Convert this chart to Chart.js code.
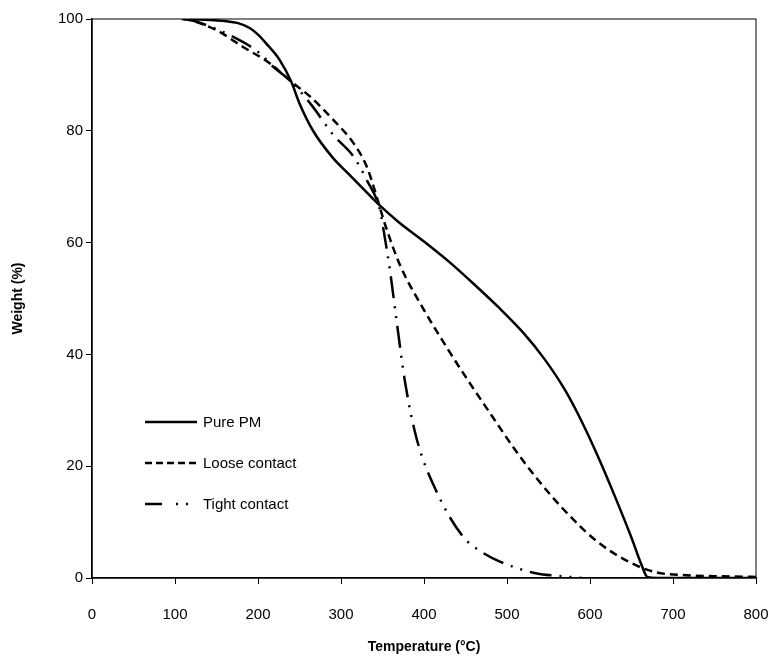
<!DOCTYPE html>
<html>
<head>
<meta charset="utf-8">
<script src="https://cdn.jsdelivr.net/npm/chart.js@4.4.0/dist/chart.umd.min.js"></script>
<style>
  body { margin: 0; background: #fff; }
  #wrap { width: 770px; height: 657px; }
</style>
</head>
<body>
<div id="wrap"><canvas id="tga"></canvas></div>
<script>
const seriesNames = ["Pure PM", "Loose contact", "Tight contact"];

// (temperature in °C, weight in %)
const pureTemp = [108, 130, 162, 175, 190, 200, 210, 226, 240, 250, 266, 290, 307, 323, 347, 370, 400, 430, 460, 490, 520, 545, 570, 590, 610, 630, 650, 663, 669, 680, 800];
const pureWeight = [100, 99.9, 99.6, 99.3, 98.4, 97.2, 95.6, 92.7, 88.8, 84.9, 80.1, 75.2, 72.6, 70.2, 66.6, 63.6, 60.2, 56.6, 52.6, 48.4, 43.8, 39.2, 33.6, 28, 21.6, 14.6, 7.2, 2, 0.2, 0, 0];

const looseTemp = [110, 118, 150, 182, 214, 240, 263, 291, 315, 331, 343, 347, 355, 371, 399, 431, 455, 480, 508, 536, 568, 608, 648, 680, 716, 760, 800];
const looseWeight = [100, 99.8, 98, 95, 92.1, 88.8, 86.1, 81.9, 77.8, 73.6, 68.2, 66.2, 62.4, 56, 48.2, 40.4, 34.9, 29.4, 23.3, 17.8, 12.3, 6.6, 2.8, 1, 0.5, 0.3, 0.2];

const tightTemp = [112, 126, 166, 202, 218, 240, 265, 291, 315, 331, 347, 351, 359, 367, 377, 391, 415, 447, 470, 492, 536, 560, 590];
const tightWeight = [100, 99.5, 97.1, 93.9, 91.5, 88.8, 84.5, 79.2, 75.4, 71.2, 65.8, 62.5, 55, 46, 35.2, 25, 15.5, 7.4, 4.6, 2.9, 0.8, 0.4, 0];

const xTicks = [0, 100, 200, 300, 400, 500, 600, 700, 800];
const yTicks = [0, 20, 40, 60, 80, 100];

function pts(xs, ys) {
  return xs.map((x, i) => ({ x: x, y: ys[i] }));
}

const dashes = [[], [8, 5], [22, 8, 2, 8, 2, 8]];
const legendDashes = [[], [7, 4], [17, 14, 2, 8, 2, 20]];

// frame around the plot + legend inside the plot
const framePlugin = {
  id: "frame",
  afterDraw(chart) {
    const ctx = chart.ctx;
    const a = chart.chartArea;
    ctx.save();
    ctx.strokeStyle = "#000";
    ctx.lineWidth = 1;
    ctx.strokeRect(a.left, a.top, a.right - a.left, a.bottom - a.top);

    // legend
    ctx.font = "15px 'Liberation Sans', Arial, sans-serif";
    ctx.textBaseline = "middle";
    ctx.fillStyle = "#000";
    const rows = [403, 444, 485];
    chart.data.datasets.forEach((ds, i) => {
      const y = a.top + rows[i];
      ctx.beginPath();
      ctx.setLineDash(legendDashes[i]);
      ctx.lineWidth = 2.5;
      ctx.moveTo(a.left + 53, y);
      ctx.lineTo(a.left + 105, y);
      ctx.stroke();
      ctx.setLineDash([]);
      ctx.fillText(ds.label, a.left + 111, y + 1);
    });
    ctx.restore();
  }
};

const ctx = document.getElementById("tga");
const chart = new Chart(ctx, {
  type: "scatter",
  data: {
    datasets: [
      { label: seriesNames[0], data: pts(pureTemp, pureWeight), borderDash: dashes[0] },
      { label: seriesNames[1], data: pts(looseTemp, looseWeight), borderDash: dashes[1] },
      { label: seriesNames[2], data: pts(tightTemp, tightWeight), borderDash: dashes[2] },
    ].map(d => Object.assign(d, {
      showLine: true,
      borderColor: "#000",
      backgroundColor: "#000",
      borderWidth: 2.5,
      pointRadius: 0,
      cubicInterpolationMode: "monotone",
      fill: false,
    })),
  },
  options: {
    responsive: true,
    maintainAspectRatio: false,
    animation: false,
    layout: { padding: { top: 19, right: 14, left: 0, bottom: 0 } },
    plugins: {
      legend: { display: false },
      tooltip: { enabled: false },
    },
    scales: {
      x: {
        type: "linear",
        min: 0,
        max: 800,
        afterBuildTicks: s => { s.ticks = xTicks.map(v => ({ value: v })); },
        afterFit: s => { s.height = 79; s.paddingLeft = 0; s.paddingRight = 0; },
        ticks: {
          color: "#000",
          padding: 22,
          maxRotation: 0,
          font: { family: "'Liberation Sans', Arial", size: 15 },
        },
        grid: { drawOnChartArea: false, drawTicks: true, tickLength: 6, color: "#000" },
        border: { color: "#000", width: 1.5 },
        title: {
          display: true,
          text: "Temperature (°C)",
          color: "#000",
          padding: { top: 0, bottom: 1 },
          font: { family: "'Liberation Sans', Arial", size: 14, weight: "bold" },
        },
      },
      y: {
        min: 0,
        max: 100,
        afterBuildTicks: s => { s.ticks = yTicks.map(v => ({ value: v })); },
        afterFit: s => { s.width = 92; s.paddingTop = 0; s.paddingBottom = 0; },
        ticks: {
          color: "#000",
          padding: 3,
          font: { family: "'Liberation Sans', Arial", size: 15 },
        },
        grid: { drawOnChartArea: false, drawTicks: true, tickLength: 6, color: "#000" },
        border: { color: "#000", width: 1.5 },
        title: {
          display: true,
          text: "Weight (%)",
          color: "#000",
          padding: { top: 10, bottom: 0 },
          font: { family: "'Liberation Sans', Arial", size: 14, weight: "bold" },
        },
      },
    },
  },
  plugins: [framePlugin],
});
</script>
</body>
</html>
